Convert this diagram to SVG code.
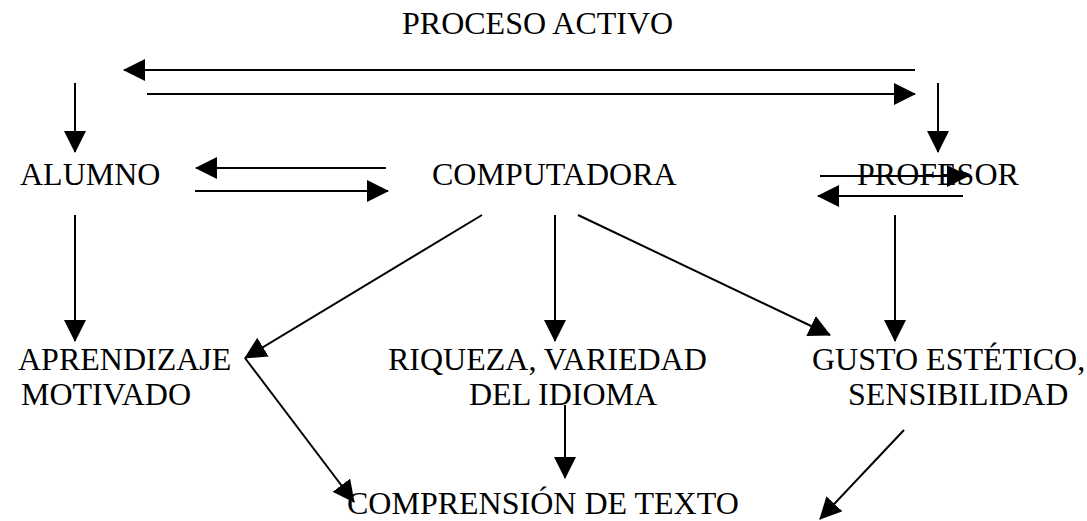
<svg xmlns="http://www.w3.org/2000/svg" width="1087" height="521" viewBox="0 0 1087 521">
<defs>
<marker id="ah" markerUnits="userSpaceOnUse" markerWidth="22" markerHeight="22" refX="21" refY="11" orient="auto" viewBox="0 0 22 22">
<path d="M0,0 L22,11 L0,22 z" fill="#000"/>
</marker>
<style>
text{font-family:"Liberation Serif","Times New Roman",serif;font-size:32px;fill:#000}
.c line{stroke:#000;stroke-width:2;fill:none;marker-end:url(#ah)}
</style>
</defs>
<rect width="1087" height="521" fill="#fff"/>
<g id="proceso"><text x="402" y="34">PROCESO ACTIVO</text></g>
<g id="alumno"><text x="20" y="185">ALUMNO</text></g>
<g id="computadora"><text x="432" y="185">COMPUTADORA</text></g>
<g id="profesor"><text x="857" y="185">PROFESOR</text></g>
<g id="aprendizaje"><text x="18" y="370">APRENDIZAJE</text><text x="21" y="405">MOTIVADO</text></g>
<g id="riqueza"><text x="388" y="370">RIQUEZA, VARIEDAD</text><text x="469" y="405">DEL IDIOMA</text></g>
<g id="gusto"><text x="812" y="370">GUSTO ESTÉTICO,</text><text x="848" y="405">SENSIBILIDAD</text></g>
<g id="comprension"><text x="347" y="514">COMPRENSIÓN DE TEXTO</text></g>
<g class="c" id="connectors">
<line x1="915" y1="70" x2="124" y2="70"/>
<line x1="147" y1="94" x2="915" y2="94"/>
<line x1="75" y1="83" x2="75" y2="152"/>
<line x1="938" y1="83" x2="938" y2="152"/>
<line x1="386" y1="168" x2="196" y2="168"/>
<line x1="195" y1="191" x2="388" y2="191"/>
<line x1="820" y1="176" x2="968" y2="176"/>
<line x1="963" y1="196" x2="818" y2="196"/>
<line x1="75" y1="215" x2="75" y2="341"/>
<line x1="482" y1="215" x2="245" y2="358"/>
<line x1="555" y1="215" x2="555" y2="341"/>
<line x1="578" y1="215" x2="830" y2="335"/>
<line x1="895" y1="215" x2="895" y2="341"/>
<line x1="245" y1="358" x2="354" y2="502"/>
<line x1="565" y1="405" x2="565" y2="478"/>
<line x1="904" y1="430" x2="820" y2="519"/>
</g>
</svg>
